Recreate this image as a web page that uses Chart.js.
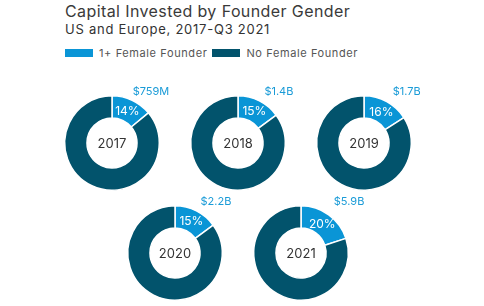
<!DOCTYPE html>
<html>
<head>
<meta charset="utf-8">
<script src="https://cdn.jsdelivr.net/npm/chart.js@4/dist/chart.umd.min.js"></script>
<style>
  body { margin: 0; background: #fff; font-family: Inter, "Liberation Sans", Arial, sans-serif; color: #333; }
  #wrap { position: relative; width: 484px; height: 306px; overflow: hidden; }
  .title { position: absolute; left: 65px; top: 1px; font-size: 16px; letter-spacing: 0.4px; white-space: nowrap; color: #3a3a3a; }
  .subtitle { position: absolute; left: 65px; top: 21px; font-size: 13px; letter-spacing: 0.75px; white-space: nowrap; color: #333; }
  .legend { position: absolute; left: 65px; top: 46px; font-size: 11px; letter-spacing: 0.6px; color: #555; white-space: nowrap; }
  .legend span.box { display: inline-block; width: 28px; height: 8px; vertical-align: 0px; margin-right: 6px; }
  .legend span.item { margin-right: 5px; }
  canvas { position: absolute; }
</style>
</head>
<body>
<div id="wrap">
  <div class="title">Capital Invested by Founder Gender</div>
  <div class="subtitle">US and Europe, 2017-Q3 2021</div>
  <div class="legend" id="legend"></div>
</div>
<script>
// data
const years = ['2017', '2018', '2019', '2020', '2021'];
const seriesNames = ['1+ Female Founder', 'No Female Founder'];
const femaleShare = [14, 15, 16, 15, 20];           // % of capital, 1+ female founder
const otherShare = [86, 85, 84, 85, 80];            // % of capital, no female founder
const capitalLabels = ['$759M', '$1.4B', '$1.7B', '$2.2B', '$5.9B'];

const colors = ['#0a95d6', '#02536c'];
const centers = [[112, 143], [238, 143], [364, 143], [174.5, 253], [300.5, 253]];
const W = 140, H = 120, CX = 70, CY = 66;
const FONT = 'Inter, "Liberation Sans", Arial, sans-serif';

// legend (html)
const legend = document.getElementById('legend');
seriesNames.forEach(function (name, i) {
    legend.innerHTML += '<span class="box" style="background:' + colors[i] + '"></span><span class="item">' + name + '</span>';
});

// labels drawn on each donut
const donutLabels = {
    id: 'donutLabels',
    afterDatasetsDraw(chart, args, opts) {
        const ctx = chart.ctx;
        const arc = chart.getDatasetMeta(0).data[0];
        const r = arc.outerRadius;
        ctx.save();
        ctx.textAlign = 'center';
        ctx.textBaseline = 'middle';

        // percent inside the small slice
        const p = arc.tooltipPosition();
        ctx.fillStyle = '#fff';
        ctx.font = '12px ' + FONT;
        ctx.fillText(opts.pct + '%', p.x, p.y + 1);

        // year in the hole
        ctx.fillStyle = '#333';
        ctx.font = '13px ' + FONT;
        ctx.fillText(opts.year, arc.x, arc.y + 1);

        // capital amount above the slice
        ctx.fillStyle = '#1a9bd7';
        ctx.font = '11px ' + FONT;
        ctx.fillText(opts.amount, arc.x + 1.07 * r * Math.cos(arc.endAngle), arc.y - r - 4);
        ctx.restore();
    }
};

years.forEach(function (year, i) {
    const canvas = document.createElement('canvas');
    canvas.width = W;
    canvas.height = H;
    canvas.style.left = (centers[i][0] - CX) + 'px';
    canvas.style.top = (centers[i][1] - CY) + 'px';
    document.getElementById('wrap').appendChild(canvas);

    new Chart(canvas, {
        type: 'doughnut',
        data: {
            labels: seriesNames,
            datasets: [{
                data: [femaleShare[i], otherShare[i]],
                backgroundColor: colors,
                borderColor: '#fff',
                borderWidth: 1.5
            }]
        },
        options: {
            responsive: false,
            animation: false,
            cutout: '53%',
            layout: { padding: { top: 18, bottom: 6, left: 22, right: 22 } },
            plugins: {
                legend: { display: false },
                tooltip: { enabled: false },
                donutLabels: { pct: femaleShare[i], year: year, amount: capitalLabels[i] }
            }
        },
        plugins: [donutLabels]
    });
});
</script>
</body>
</html>
